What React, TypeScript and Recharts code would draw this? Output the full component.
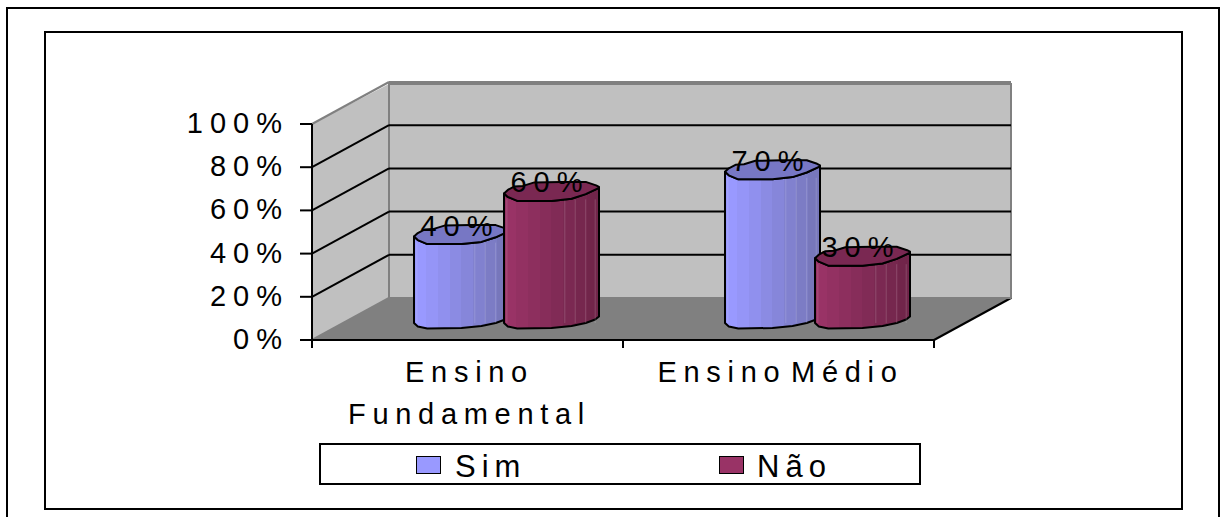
import React from "react";
import { BarChart, Bar, XAxis, YAxis, CartesianGrid, Legend, LabelList } from "recharts";

const categories = ["Ensino Fundamental", "Ensino Médio"];
const simValues = [0.4, 0.7];
const naoValues = [0.6, 0.3];
const yTicks = [0, 0.2, 0.4, 0.6, 0.8, 1];
const simBands = ["#9999FF", "#9595F7", "#9090EE", "#8B8BE3", "#8686DA", "#8181CF", "#7C7CC5", "#7777BB"];
const naoBands = ["#993366", "#933162", "#8D2F5E", "#872D5A", "#812B56", "#7B2952", "#76274E", "#71254A"];

const chartData = categories.map((name, i) => ({ name, Sim: simValues[i], Nao: naoValues[i] }));

const FONT = "'Liberation Sans', Arial, sans-serif";
const DX = 77;
const DY = -42;
const FX = 36; // bar shift into the depth of the floor
const FY = -17;

const topBack: [number, number][] = [[0, 0], [0.04, -3.5], [0.11, -7], [0.2, -7.5], [0.32, -11], [0.6, -11.5], [0.86, -11.5], [0.97, -8], [1, -6.5]];
const topFront: [number, number][] = [[1, -5.5], [0.86, 0.7], [0.71, 5.3], [0.5, 7.5], [0.14, 7.5], [0.04, 3.5]];
const bottomCurve: [number, number][] = [[1, -6.5], [0.96, -3.5], [0.86, 0], [0.71, 3], [0.5, 5], [0.14, 5.5], [0.04, 3.5], [0, 0]];
const sheenLines = [0.03, 0.64, 0.75, 0.86, 0.96];

function bandStops(bands: string[]) {
  return bands.flatMap((c, i) => [
    <stop key={i + "a"} offset={i / bands.length} stopColor={c} />,
    <stop key={i + "b"} offset={(i + 1) / bands.length} stopColor={c} />,
  ]);
}

function pts(list: [number, number][], x: number, y: number, w: number) {
  return list.map(([a, b]) => `${(x + a * w).toFixed(1)},${(y + b).toFixed(1)}`);
}

function Cylinder(props: any) {
  const { x, y, width, height, gradient, topFill } = props;
  const lx = x + FX;
  const w = width + 5;
  const yT = y + FY;
  const yB = y + height + FY;
  const body = [
    ...pts([[0, 0]], lx, yT, w),
    ...pts(topFront.slice().reverse(), lx, yT, w),
    ...pts(bottomCurve, lx, yB, w),
  ].join(" ");
  const top = [...pts(topBack, lx, yT, w), ...pts(topFront, lx, yT, w)].join(" ");
  return (
    <g>
      <polygon points={body} fill={`url(#${gradient})`} stroke="#000" strokeWidth={2} strokeLinejoin="round" />
      {sheenLines.map((f) => (
        <line key={f} x1={lx + f * w} x2={lx + f * w} y1={yT + 6} y2={yB} stroke="#fff" strokeOpacity={0.16} strokeWidth={1} />
      ))}
      <polygon points={top} fill={topFill} stroke="#000" strokeWidth={2} strokeLinejoin="round" />
    </g>
  );
}

function DataLabel(props: any) {
  const { x, y, width, value } = props;
  return (
    <text x={x + FX + width / 2 + 1} y={y + FY - 1} textAnchor="middle" fontFamily={FONT} fontSize={29} letterSpacing={7} fill="#000">
      {Math.round(value * 100)}%
    </text>
  );
}

function YTick(props: any) {
  const { x, y, payload } = props;
  return (
    <text x={x - 11} y={y + 9} textAnchor="end" fontFamily={FONT} fontSize={29} letterSpacing={7} fill="#000">
      {Math.round(payload.value * 100)}%
    </text>
  );
}

function XTick(props: any) {
  const { x, y, payload, index, visibleTicksCount, width } = props;
  const band = width / visibleTicksCount;
  const words = payload.value === categories[0] ? payload.value.split(" ") : [payload.value];
  return (
    <g>
      <line x1={x - band / 2} x2={x - band / 2} y1={y - 8} y2={y} stroke="#000" strokeWidth={2} />
      {index === visibleTicksCount - 1 && <line x1={x + band / 2} x2={x + band / 2} y1={y - 8} y2={y} stroke="#000" strokeWidth={2} />}
      {words.map((t: string, i: number) => (
        <text key={t} x={x + 2} y={y + 34 + i * 42} textAnchor="middle" fontFamily={FONT} fontSize={29} letterSpacing={6.7} wordSpacing={-10} fill="#000">
          {t}
        </text>
      ))}
    </g>
  );
}

function GridLine(props: any) {
  const { x1, x2, y1, index } = props;
  const edge = y1 < 130 || y1 > 335;
  const tone = edge ? "#808080" : "#000";
  return (
    <g key={`g${index}`}>
      {index === 0 && (
        <g>
          <polygon points="312,124 389,84 389,298 312,340" fill="#C0C0C0" />
          <polygon points="389,84 1011,84 1011,298 389,298" fill="#C0C0C0" stroke="#808080" strokeWidth={2} />
          <polygon points="312,340 389,298 1011,298 934,340" fill="#808080" />
          <line x1={934} y1={340} x2={1011} y2={298} stroke="#000" strokeWidth={2} />
          <line x1={389} y1={84} x2={389} y2={298} stroke="#808080" strokeWidth={2} />
        </g>
      )}
      <line x1={x1} x2={x1 + DX} y1={y1} y2={y1 + DY} stroke={tone} strokeWidth={2} />
      <line x1={x1 + DX} x2={x2 + DX} y1={y1 + DY} y2={y1 + DY} stroke={tone} strokeWidth={2} />
    </g>
  );
}

const legendItems = [
  { left: 415, text: 455, color: "#9999FF", label: "Sim" },
  { left: 718, text: 757, color: "#993366", label: "Não" },
];

function LegendBox() {
  return (
    <div style={{ position: "absolute", left: 319, top: 443, width: 598, height: 38, border: "2px solid #000", background: "#fff" }}>
      {legendItems.map((it) => (
        <React.Fragment key={it.label}>
          <div style={{ position: "absolute", left: it.left - 320, top: 11, width: 23, height: 16, background: it.color, border: "1.5px solid #000" }} />
          <div style={{ position: "absolute", left: it.text - 321, top: 5, fontFamily: FONT, fontSize: 31, letterSpacing: 6, lineHeight: "34px", color: "#000" }}>
            {it.label}
          </div>
        </React.Fragment>
      ))}
    </div>
  );
}

export default function App() {
  return (
    <div style={{ position: "absolute", left: 0, top: 0, width: 1220, height: 517, background: "#fff" }}>
      <BarChart
        width={1220}
        height={517}
        data={chartData}
        barSize={90}
        barGap={0}
        margin={{ top: 124, right: 286, bottom: 77, left: 212 }}
      >
        <defs>
          <linearGradient id="simGrad" x1="0" x2="1" y1="0" y2="0">{bandStops(simBands)}</linearGradient>
          <linearGradient id="naoGrad" x1="0" x2="1" y1="0" y2="0">{bandStops(naoBands)}</linearGradient>
        </defs>
        <rect x={7} y={8} width={1212} height={520} fill="none" stroke="#000" strokeWidth={2} />
        <rect x={45} y={32} width={1137} height={477} fill="none" stroke="#000" strokeWidth={2} />
        <CartesianGrid vertical={false} horizontal={GridLine as any} />
        <XAxis
          dataKey="name"
          height={100}
          interval={0}
          tickLine={false}
          axisLine={{ stroke: "#000", strokeWidth: 2 }}
          tick={XTick as any}
          tickSize={8}
          tickMargin={0}
        />
        <YAxis
          width={100}
          domain={[0, 1]}
          ticks={yTicks}
          tickSize={12}
          tickMargin={0}
          axisLine={{ stroke: "#000", strokeWidth: 2 }}
          tickLine={{ stroke: "#000", strokeWidth: 2 }}
          tick={YTick as any}
        />
        <Legend content={LegendBox as any} wrapperStyle={{ position: "absolute", left: 0, top: 0, width: 1220, height: 0 }} />
        <Bar dataKey="Sim" isAnimationActive={false} fill="#9999FF" shape={(p: any) => <Cylinder {...p} gradient="simGrad" topFill="#7777C4" />}>
          <LabelList dataKey="Sim" content={DataLabel as any} />
        </Bar>
        <Bar dataKey="Nao" name="Não" isAnimationActive={false} fill="#993366" shape={(p: any) => <Cylinder {...p} gradient="naoGrad" topFill="#7A2852" />}>
          <LabelList dataKey="Nao" content={DataLabel as any} />
        </Bar>
      </BarChart>
    </div>
  );
}
